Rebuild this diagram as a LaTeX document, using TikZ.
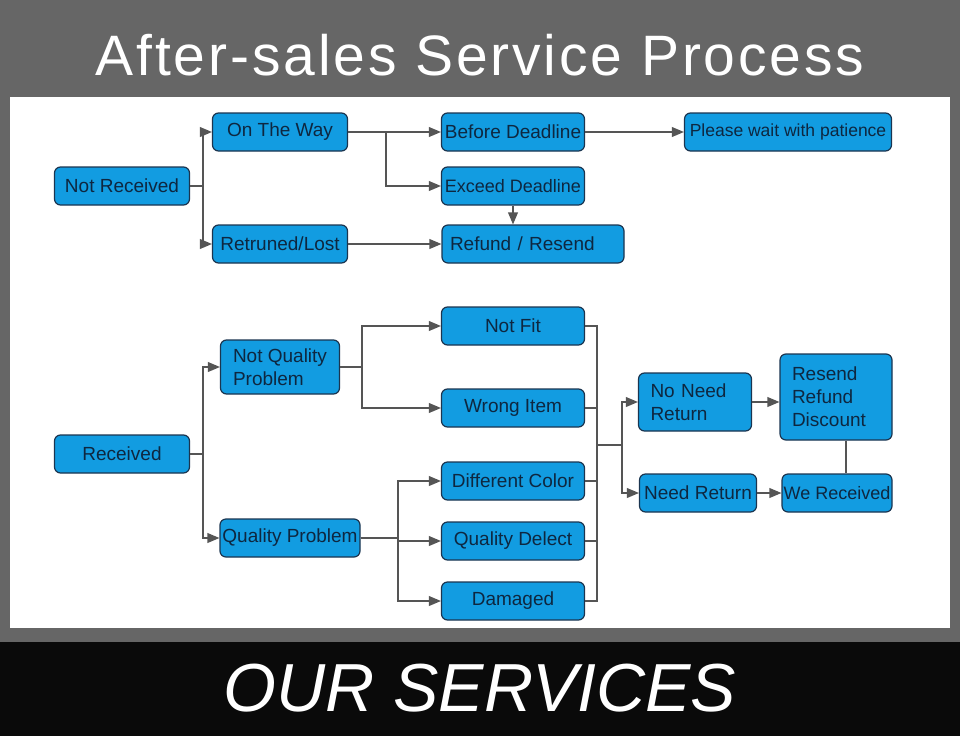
\documentclass[tikz,border=0pt]{standalone}
\usepackage{fontspec}
\setmainfont{Liberation Sans}
\usetikzlibrary{arrows}
\definecolor{boxblue}{HTML}{129CE1}
\definecolor{boxline}{HTML}{1B3550}
\definecolor{boxtext}{HTML}{0E2740}
\definecolor{linegray}{HTML}{555555}
\definecolor{framegray}{HTML}{666666}

\begin{document}
\begin{tikzpicture}[x=1pt,y=-1pt,
        norm/.style={draw=boxline,fill=boxblue,text=boxtext,rounded corners=6pt,line width=1.2pt,inner sep=2pt,minimum height=38pt,font=\fontsize{19}{23}\selectfont},
        snug/.style={font=\fontsize{18}{22}\selectfont,inner xsep=1pt},
        conn/.style={draw=linegray,line width=1.8pt},
        arr/.style={conn,-triangle 45}
      ]
      \useasboundingbox (0,0) rectangle (960,736);
      \fill[framegray] (0,0) rectangle (960,642);
      \fill[white] (10,97) rectangle (950,628);
      \fill[black!96] (0,642) rectangle (960,736);
      \node[text=white,font=\fontsize{57}{60}\selectfont\addfontfeatures{LetterSpace=5}] (title) at (480,55) {After-sales Service Process};
      \node[text=white,font=\fontsize{68}{70}\selectfont\itshape] (foot) at (480,688) {OUR SERVICES};
      % Not received.
      \node[norm,minimum width=135pt] (nrec) at (122,186) {Not Received};
      \node[norm,minimum width=135pt] (otw) at (280,132) {On The Way};
      \node[norm,minimum width=135pt] (lost) at (280,244) {Retruned/Lost};
      \node[norm,minimum width=143pt] (bd) at (513,132) {Before Deadline};
      \node[norm,snug,minimum width=143pt] (ed) at (513,186) {Exceed Deadline};
      \node[norm,text width=166pt,inner xsep=8pt,align=left] (rr) at (533,244) {Refund / Resend};
      \node[norm,minimum width=207pt,font=\fontsize{17.5}{20}\selectfont] (wait) at (788,132) {Please wait with patience};
      % Received.
      \node[norm,minimum width=135pt] (rec) at (122,454) {Received};
      \node[norm,minimum width=119pt,minimum height=54pt,align=left] (nqp) at (280,367) {Not Quality\\Problem};
      \node[norm,minimum width=140pt] (qp) at (290,538) {Quality Problem};
      \node[norm,minimum width=143pt] (nf) at (513,326) {Not Fit};
      \node[norm,minimum width=143pt] (wi) at (513,408) {Wrong Item};
      \node[norm,minimum width=143pt] (dc) at (513,481) {Different Color};
      \node[norm,minimum width=143pt] (qd) at (513,541) {Quality Delect};
      \node[norm,minimum width=143pt] (dm) at (513,601) {Damaged};
      \node[norm,text width=89pt,inner xsep=12pt,minimum height=58pt,align=left] (nnr) at (695,402) {No Need\\Return};
      \node[norm,minimum width=117pt] (ndr) at (698,493) {Need Return};
      \node[norm,text width=88pt,inner xsep=12pt,minimum height=86pt,align=left] (rrd) at (836,397) {Resend\\Refund\\Discount};
      \node[norm,snug,minimum width=110pt] (wr) at (837,493) {We Received};
      \coordinate (bus) at (597,445);
      % Connections.
      \draw[arr] (nrec.east) -- +(13,0) |- (otw);
      \draw[arr] (nrec.east) -- +(13,0) |- (lost);
      \draw[arr] (otw) -- (bd);
      \draw[arr] (otw.east) -- +(38,0) |- (ed);
      \draw[arr] (bd) -- (wait);
      \draw[arr] (ed.south) -- (ed.south |- rr.north);
      \draw[arr] (lost) -- (lost -| rr.west);
      \draw[arr] (rec.east) -- +(13,0) |- (nqp);
      \draw[arr] (rec.east) -- +(13,0) |- (qp);
      \draw[arr] (nqp.east) -- +(22,0) |- (nf);
      \draw[arr] (nqp.east) -- +(22,0) |- (wi);
      \draw[arr] (qp.east) -- +(37,0) |- (dc);
      \draw[arr] (qp.east) -- +(37,0) |- (qd);
      \draw[arr] (qp.east) -- +(37,0) |- (dm);
      \draw[conn] (nf.east) -| (bus);
      \draw[conn] (wi.east) -| (bus);
      \draw[conn] (dc.east) -| (bus);
      \draw[conn] (qd.east) -| (bus);
      \draw[conn] (dm.east) -| (bus);
      \draw[arr] (bus) -- +(25,0) |- (nnr);
      \draw[arr] (bus) -- +(25,0) |- (ndr);
      \draw[arr] (nnr) -- (nnr -| rrd.west);
      \draw[arr] (ndr) -- (wr);
      \draw[conn] ([xshift=10pt]rrd.south) -- ([xshift=10pt]rrd.south |- wr.north);
    \end{tikzpicture}
\end{document}
